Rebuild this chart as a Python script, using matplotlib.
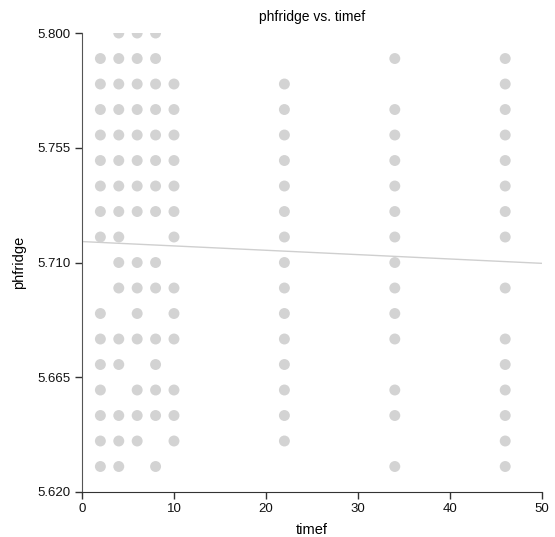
import numpy as np
import matplotlib
matplotlib.use("Agg")
import matplotlib.pyplot as plt

plt.rcParams['font.family'] = ['Liberation Sans', 'DejaVu Sans']

# time points and the phfridge readings found at each one
timef_levels = [2, 4, 6, 8, 10, 22, 34, 46]
ph_at_2 = [5.79, 5.78, 5.77, 5.76, 5.75, 5.74, 5.73, 5.72,
           5.69, 5.68, 5.67, 5.66, 5.65, 5.64, 5.63]
ph_at_4 = [5.80, 5.79, 5.78, 5.77, 5.76, 5.75, 5.74, 5.73, 5.72, 5.71,
           5.70, 5.68, 5.67, 5.65, 5.64, 5.63]
ph_at_6 = [5.80, 5.79, 5.78, 5.77, 5.76, 5.75, 5.74, 5.73, 5.71,
           5.70, 5.69, 5.68, 5.66, 5.65, 5.64]
ph_at_8 = [5.80, 5.79, 5.78, 5.77, 5.76, 5.75, 5.74, 5.73, 5.71,
           5.70, 5.68, 5.67, 5.66, 5.65, 5.63]
ph_at_10 = [5.78, 5.77, 5.76, 5.75, 5.74, 5.73, 5.72,
            5.70, 5.69, 5.68, 5.66, 5.65, 5.64]
ph_at_22 = [5.78, 5.77, 5.76, 5.75, 5.74, 5.73, 5.72, 5.71,
            5.70, 5.69, 5.68, 5.67, 5.66, 5.65, 5.64]
ph_at_34 = [5.79, 5.77, 5.76, 5.75, 5.74, 5.73, 5.72, 5.71,
            5.70, 5.69, 5.68, 5.66, 5.65, 5.63]
ph_at_46 = [5.79, 5.78, 5.77, 5.76, 5.75, 5.74, 5.73, 5.72,
            5.70, 5.68, 5.67, 5.66, 5.65, 5.64, 5.63]

ph_lists = [ph_at_2, ph_at_4, ph_at_6, ph_at_8, ph_at_10, ph_at_22, ph_at_34, ph_at_46]
x_ticks = [0, 10, 20, 30, 40, 50]
y_ticks = [5.620, 5.665, 5.710, 5.755, 5.800]

xs = np.concatenate([[t] * len(v) for t, v in zip(timef_levels, ph_lists)])
ys = np.concatenate(ph_lists)

fig = plt.figure(figsize=(5.55, 5.37), dpi=100)
ax = fig.add_axes([0.1477, 0.0838, 0.8289, 0.8547])

ax.scatter(xs, ys, s=62, color='#d3d3d3', edgecolors='none', zorder=2)

# least squares trend line across the full x range
slope, intercept = np.polyfit(xs, ys, 1)
line_x = np.array([0, 50])
ax.plot(line_x, intercept + slope * line_x, color='#cfcfcf', lw=1, zorder=1)

ax.set_xlim(0, 50)
ax.set_ylim(5.620, 5.800)
ax.set_xticks(x_ticks)
ax.set_yticks(y_ticks)
ax.set_yticklabels([f"{v:.3f}" for v in y_ticks])

for side in ['top', 'right']:
    ax.spines[side].set_visible(False)
ax.spines['left'].set_color('#555555')
ax.spines['bottom'].set_color('#333333')
ax.tick_params(direction='out', length=5, width=1, color='#333333',
               labelsize=9.5, labelcolor='#111111', pad=3)

ax.set_title("phfridge vs. timef", fontsize=10, pad=9)
ax.set_xlabel("timef", fontsize=10.5, labelpad=6)
ax.set_ylabel("phfridge", fontsize=10.5, labelpad=8)

fig.savefig("out.png", dpi=100)
